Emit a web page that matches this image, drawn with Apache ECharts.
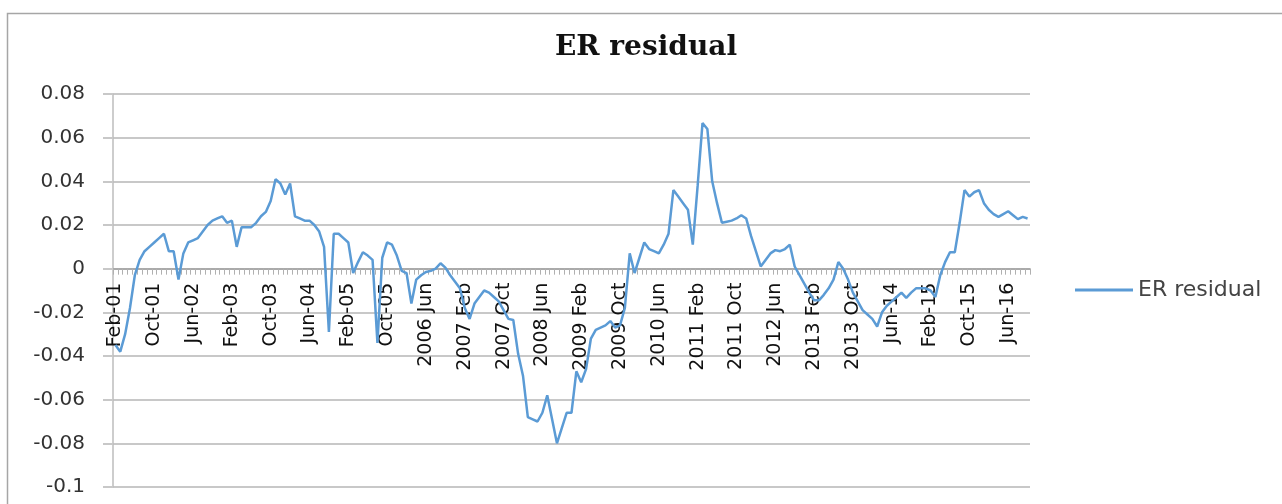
<!DOCTYPE html>
<html>
<head>
<meta charset="utf-8">
<title>ER residual</title>
<script src="https://cdn.jsdelivr.net/npm/echarts@6/dist/echarts.min.js"></script>
<style>
  html, body { margin: 0; padding: 0; background: #fff; }
  #chart { width: 1282px; height: 504px; }
</style>
</head>
<body>
<div id="chart"></div>
<script>
// monthly, Feb 2001 .. Oct 2016
var monthNames = ['Jan', 'Feb', 'Mar', 'Apr', 'May', 'Jun', 'Jul', 'Aug', 'Sep', 'Oct', 'Nov', 'Dec'];
var startYear = 2001, startMonth = 1, monthCount = 189;

var residual = [
  -0.035, -0.038, -0.030, -0.018, -0.003, 0.004, 0.008, 0.010, 0.012, 0.014,
  0.016, 0.008, 0.008, -0.005, 0.007, 0.012, 0.013, 0.014, 0.017, 0.020,
  0.022, 0.023, 0.024, 0.021, 0.022, 0.010, 0.019, 0.019, 0.019, 0.021,
  0.024, 0.026, 0.031, 0.041, 0.039, 0.034, 0.039, 0.024, 0.023, 0.022,
  0.022, 0.020, 0.017, 0.010, -0.029, 0.016, 0.016, 0.014, 0.012, -0.002,
  0.003, 0.0075, 0.006, 0.004, -0.034, 0.005, 0.012, 0.011, 0.006, -0.001,
  -0.002, -0.016, -0.005, -0.003, -0.0015, -0.001, 0.000, 0.0025, 0.0005, -0.003,
  -0.006, -0.009, -0.018, -0.023, -0.016, -0.013, -0.010, -0.011, -0.013, -0.015,
  -0.019, -0.023, -0.0235, -0.039, -0.049, -0.068, -0.069, -0.070, -0.066, -0.058,
  -0.069, -0.080, -0.073, -0.066, -0.066, -0.047, -0.052, -0.046, -0.032, -0.028,
  -0.027, -0.026, -0.024, -0.027, -0.026, -0.018, 0.007, -0.002, 0.005, 0.012,
  0.009, 0.008, 0.007, 0.011, 0.016, 0.036, 0.033, 0.030, 0.027, 0.011,
  0.038, 0.0667, 0.064, 0.040, 0.030, 0.021, 0.0215, 0.022, 0.023, 0.0245,
  0.023, 0.015, 0.008, 0.001, 0.004, 0.007, 0.0085, 0.008, 0.009, 0.011,
  0.001, -0.003, -0.007, -0.011, -0.0145, -0.0145, -0.012, -0.009, -0.005, 0.003,
  0.000, -0.005, -0.011, -0.015, -0.019, -0.021, -0.023, -0.0265, -0.020, -0.017,
  -0.015, -0.013, -0.011, -0.0134, -0.011, -0.009, -0.009, -0.009, -0.010, -0.013,
  -0.003, 0.003, 0.0075, 0.0075, 0.021, 0.036, 0.033, 0.035, 0.036, 0.030,
  0.027, 0.025, 0.0237, 0.025, 0.0263, 0.0245, 0.0227, 0.0237, 0.023
];

var yTicks = { min: -0.1, max: 0.08, step: 0.02 };

// the source mixes two label styles: "2006 Jun" for 2006-2013, "Feb-01" otherwise
var months = [];
for (var i = 0; i < monthCount; i++) {
  var m = (startMonth + i) % 12;
  var y = startYear + Math.floor((startMonth + i) / 12);
  if (y >= 2006 && y <= 2013) {
    months.push(y + ' ' + monthNames[m]);
  } else {
    months.push(monthNames[m] + '-' + String(y).slice(2));
  }
}

var gridTop = 94, gridBottom = 17, chartHeight = 504;
var plotHeight = chartHeight - gridTop - gridBottom;
// lift the category axis (line, ticks, labels) up to the zero line
var zeroOffset = -plotHeight * (0 - yTicks.min) / (yTicks.max - yTicks.min);

var chart = echarts.init(document.getElementById('chart'), null, { renderer: 'canvas' });

var option = {
  animation: false,
  backgroundColor: '#fff',
  title: {
    text: 'ER residual',
    left: 555,
    top: 34,
    padding: 0,
    textStyle: {
      fontFamily: 'DejaVu Serif',
      fontWeight: 'bold',
      fontSize: 28,
      color: '#111'
    }
  },
  legend: {
    data: ['ER residual'],
    left: 1075,
    top: 279,
    padding: 0,
    icon: 'rect',
    itemWidth: 58,
    itemHeight: 3,
    itemGap: 4,
    textStyle: {
      fontFamily: 'DejaVu Sans',
      fontSize: 22,
      color: '#444'
    }
  },
  graphic: [{
    type: 'rect',
    shape: { x: 7.5, y: 13.5, width: 1300, height: 520 },
    style: { fill: 'none', stroke: '#a6a6a6', lineWidth: 1.5 },
    silent: true
  }],
  grid: {
    left: 113,
    right: 252,
    top: gridTop,
    bottom: gridBottom,
    containLabel: false,
    outerBoundsMode: 'none'
  },
  xAxis: {
    type: 'category',
    data: months,
    boundaryGap: true,
    position: 'bottom',
    offset: zeroOffset,
    axisLine: {
      onZero: false,
      lineStyle: { color: '#a0a0a0', width: 1.5 }
    },
    axisTick: {
      show: true,
      interval: 0,
      length: 6,
      lineStyle: { color: '#b0b0b0' }
    },
    axisLabel: {
      interval: 7,
      rotate: 90,
      margin: 14,
      fontFamily: 'DejaVu Sans',
      fontSize: 19,
      color: '#111'
    },
    splitLine: { show: false }
  },
  yAxis: {
    type: 'value',
    min: yTicks.min,
    max: yTicks.max,
    interval: yTicks.step,
    axisLine: {
      show: true,
      lineStyle: { color: '#bdbdbd', width: 1.5 }
    },
    axisTick: {
      show: true,
      length: 10,
      lineStyle: { color: '#c8c8c8', width: 2 }
    },
    axisLabel: {
      margin: 28,
      fontFamily: 'DejaVu Sans',
      fontSize: 20,
      color: '#333',
      formatter: function (v) {
        return String(+v.toFixed(2));
      }
    },
    splitLine: {
      lineStyle: { color: '#c8c8c8', width: 2 }
    }
  },
  series: [{
    name: 'ER residual',
    type: 'line',
    data: residual,
    symbol: 'none',
    showSymbol: false,
    lineStyle: { color: '#5b9bd5', width: 2.5 },
    itemStyle: { color: '#5b9bd5' }
  }]
};

chart.setOption(option);
</script>
</body>
</html>
